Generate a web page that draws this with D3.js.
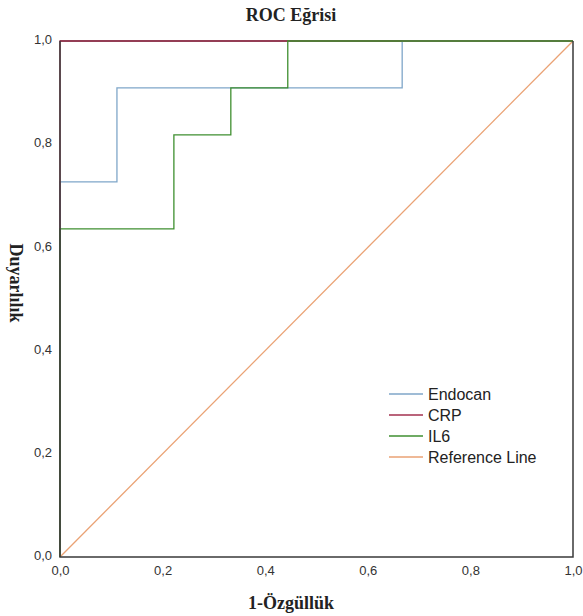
<!DOCTYPE html>
<html>
<head>
<meta charset="utf-8">
<script src="https://cdn.jsdelivr.net/npm/d3@7/dist/d3.min.js"></script>
<style>
  body { margin: 0; background: #fff; }
  svg { display: block; }
</style>
</head>
<body>
<svg id="chart" width="583" height="616"></svg>
<script>
// ROC curves: x = 1 - specificity, y = sensitivity
const endocan = [[0,0],[0,0.727],[0.111,0.727],[0.111,0.909],[0.667,0.909],[0.667,1],[1,1]];
const crp = [[0,0],[0,1],[1,1]];
const il6 = [[0,0],[0,0.636],[0.222,0.636],[0.222,0.818],[0.333,0.818],[0.333,0.909],[0.444,0.909],[0.444,1],[1,1]];
const refLine = [[0,0],[1,1]];

const seriesNames = ["Endocan", "CRP", "IL6", "Reference Line"];
const seriesColors = ["#7fa6c9", "#a3314f", "#3f8f30", "#eaa274"];
const ticks = [0, 0.2, 0.4, 0.6, 0.8, 1.0];

const margin = {top: 41, right: 10, bottom: 59, left: 60};
const width = 583, height = 616;

const svg = d3.select("#chart");

const x = d3.scaleLinear().domain([0, 1]).range([margin.left, width - margin.right]);
const y = d3.scaleLinear().domain([0, 1]).range([height - margin.bottom, margin.top]);

const fmt = d => d3.format(".1f")(d).replace(".", ",");

// top edge of the frame sits under the curves
svg.append("line")
  .attr("x1", x(0)).attr("x2", x(1)).attr("y1", y(1)).attr("y2", y(1))
  .attr("stroke", "#3a3a3a")
  .attr("stroke-width", 1.5);

const data = [endocan, crp, il6, refLine];
const line = d3.line().x(d => x(d[0])).y(d => y(d[1]));
[3, 0, 1, 2].forEach(i => {
  svg.append("path")
    .attr("d", line(data[i]))
    .attr("fill", "none")
    .attr("stroke", seriesColors[i])
    .attr("stroke-width", 1.3);
});

// left, bottom and right edges over the curves
svg.append("path")
  .attr("d", `M${x(0)},${y(1)}V${y(0)}H${x(1)}V${y(1)}`)
  .attr("fill", "none")
  .attr("stroke", "#3a3a3a")
  .attr("stroke-width", 1.5);

// axes without tick marks
const xAxis = svg.append("g")
  .attr("transform", `translate(0,${y(0)})`)
  .call(d3.axisBottom(x).tickValues(ticks).tickFormat(fmt).tickSize(0).tickPadding(9));
const yAxis = svg.append("g")
  .attr("transform", `translate(${x(0)},0)`)
  .call(d3.axisLeft(y).tickValues(ticks).tickFormat(fmt).tickSize(0).tickPadding(8));
[xAxis, yAxis].forEach(g => {
  g.select(".domain").remove();
  g.selectAll("text")
    .attr("fill", "#333")
    .style("font", "13px 'Liberation Sans', Arial, sans-serif");
});
yAxis.selectAll("text").attr("dy", "0.2em");

// titles
svg.append("text")
  .attr("x", 291).attr("y", 21)
  .attr("text-anchor", "middle")
  .style("font", "bold 18px 'Liberation Serif', 'Times New Roman', serif")
  .attr("fill", "#222")
  .text("ROC Eğrisi");

svg.append("text")
  .attr("x", 291).attr("y", 609)
  .attr("text-anchor", "middle")
  .style("font", "bold 18px 'Liberation Serif', 'Times New Roman', serif")
  .attr("fill", "#222")
  .text("1-Özgüllük");

svg.append("text")
  .attr("transform", "translate(10,283) rotate(90)")
  .attr("text-anchor", "middle")
  .style("font", "bold 18px 'Liberation Serif', 'Times New Roman', serif")
  .attr("fill", "#222")
  .text("Duyarlılık");

// legend
const legend = svg.append("g").attr("transform", "translate(389,394)");
seriesNames.forEach((name, i) => {
  const row = legend.append("g").attr("transform", `translate(0,${i * 21})`);
  row.append("line")
    .attr("x1", 0).attr("x2", 34).attr("y1", 0).attr("y2", 0)
    .attr("stroke", seriesColors[i])
    .attr("stroke-width", 1.3);
  row.append("text")
    .attr("x", 39).attr("y", 6)
    .style("font", "16px 'Liberation Sans', Arial, sans-serif")
    .attr("fill", "#222")
    .text(name);
});
</script>
</body>
</html>
